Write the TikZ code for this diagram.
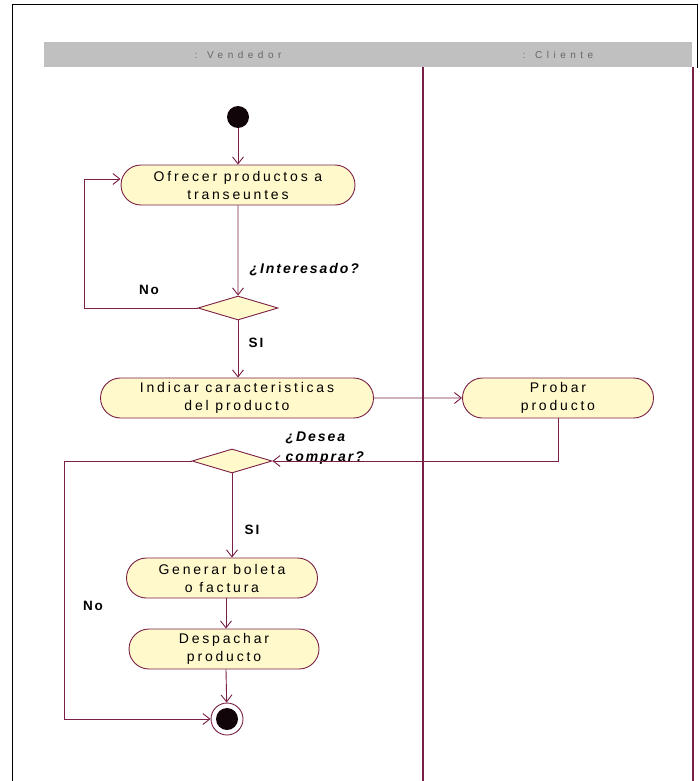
\documentclass[tikz,border=0pt]{standalone}
\usepackage{fontspec}
\setmainfont{Liberation Sans}
\newfontfamily\widefont[LetterSpace=20]{Liberation Sans}
\newfontfamily\lblfont[LetterSpace=14]{Liberation Sans}
\newfontfamily\hdrfont[LetterSpace=45]{Liberation Sans}
\usetikzlibrary{shapes.misc,shapes.geometric,arrows.meta}
\definecolor{mar}{HTML}{7A1F45}
\definecolor{pill}{HTML}{FFF9CC}
\definecolor{hdr}{HTML}{C0C0C0}
\tikzset{
  act/.style={rounded rectangle, draw=mar, fill=pill, line width=0.9pt, minimum height=40pt, align=center, font=\widefont\fontsize{14}{18}\selectfont, inner sep=1pt},
  dec/.style={diamond, draw=mar, fill=pill, line width=0.9pt, minimum width=80pt, minimum height=24pt, inner sep=0pt},
  flow/.style={draw=mar, line width=0.9pt, -{Straight Barb[length=7pt,width=11pt]}},
  lbl/.style={font=\lblfont\fontsize{13.5}{16}\selectfont\bfseries},
  qlbl/.style={font=\lblfont\fontsize{14}{20}\selectfont\bfseries\itshape, align=left},
  lane/.style={draw=mar, line width=1.2pt}
}
\begin{document}
\begin{tikzpicture}[x=1pt,y=-1pt]
\useasboundingbox (0,0) rectangle (699,781);
% outer frame
\draw[black, line width=1pt] (12,781) -- (12,5) -- (697,5) -- (697,68);
% header
\fill[hdr] (44,42) rectangle (692,67);
\node[text=black!60, font=\hdrfont\fontsize{10}{12}\selectfont] (hv) at (238,55) {: Vendedor};
\node[text=black!60, font=\hdrfont\fontsize{10}{12}\selectfont] (hc) at (558,55) {: Cliente};
% lanes
\draw[lane] (423,67) -- (423,781);
\draw[lane] (693,67) -- (693,781);
% nodes
\node[circle, fill=black!85!mar, minimum size=22pt, inner sep=0pt] (start) at (238,117) {};
\node[act, minimum width=236pt] (ofrecer) at (238,185) {Ofrecer productos a\\transeuntes};
\node[dec] (d1) at (238,308) {};
\node[act, minimum width=275pt] (indicar) at (237,398) {Indicar caracteristicas\\del producto};
\node[act, minimum width=193pt] (probar) at (558,398) {Probar\\producto};
\node[dec] (d2) at (232,461) {};
\node[act, minimum width=193pt] (generar) at (222,578) {Generar boleta\\o factura};
\node[act, minimum width=192pt] (despachar) at (224,649) {Despachar\\producto};
\node[circle, draw=mar, fill=white, line width=0.9pt, minimum size=32pt, inner sep=0pt,
  path picture={\fill[black!85!mar] (path picture bounding box.center) circle (11pt);}] (end) at (227,719) {};
% labels
\node[qlbl, anchor=west] (qi) at (246,270) {¿Interesado?};
\node[lbl] (no1) at (149,290) {No};
\node[lbl] (si1) at (256,343) {SI};
\node[qlbl, anchor=west] (qd) at (282,448) {¿Desea\\comprar?};
\node[lbl] (si2) at (252,530) {SI};
\node[lbl] (no2) at (93,606) {No};
% connectors
\draw[flow] (start) -- (ofrecer);
\draw[flow] (ofrecer) -- (d1);
\draw[flow] (d1.west) -- ++(-113,0) coordinate (l1) |- ([yshift=6pt]ofrecer.west);
\draw[flow] (d1.south) -- (d1.south |- indicar.north);
\draw[flow] (indicar) -- (probar);
\draw[flow] (probar.south) |- (d2.east);
\draw[flow] (d2.south) -- (d2.south |- generar.north);
\draw[flow] ([xshift=4pt]generar.south) -- ([xshift=4pt]generar.south |- despachar.north);
\draw[flow] ([xshift=2pt]despachar.south) -- (end);
\draw[flow] (d2.west) -- ++(-127,0) coordinate (l2) |- (end.west);
\end{tikzpicture}
\end{document}
